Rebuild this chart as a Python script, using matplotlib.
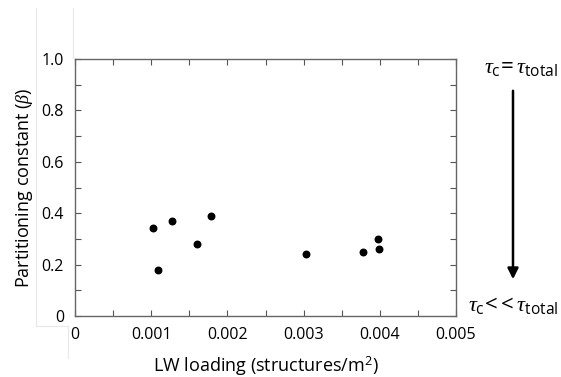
import matplotlib
matplotlib.use("Agg")
import matplotlib.pyplot as plt
from matplotlib.lines import Line2D

plt.rcParams['font.family'] = ['Open Sans', 'DejaVu Sans']
plt.rcParams['mathtext.fontset'] = 'custom'
plt.rcParams['mathtext.rm'] = 'Open Sans'
plt.rcParams['mathtext.sf'] = 'Open Sans'
plt.rcParams['mathtext.it'] = 'Liberation Serif:italic'

# LW loading (structures/m2) vs partitioning constant beta
lw_loading = [0.00103, 0.00109, 0.00127, 0.00160, 0.00179, 0.00303, 0.00378, 0.00397, 0.00399]
beta = [0.341, 0.179, 0.370, 0.280, 0.390, 0.240, 0.249, 0.300, 0.261]

xticks = [0, 0.001, 0.002, 0.003, 0.004, 0.005]
xtick_labels = ['0', '0.001', '0.002', '0.003', '0.004', '0.005']
yticks = [0, 0.2, 0.4, 0.6, 0.8, 1.0]
ytick_labels = ['0', '0.2', '0.4', '0.6', '0.8', '1.0']

fig = plt.figure(figsize=(5.61, 3.77), dpi=100)
ax = fig.add_axes([75/561, 1 - 316/377, 381/561, 257/377])

ax.scatter(lw_loading, beta, s=22, color='black', zorder=3)

ax.set_xlim(0, 0.005)
ax.set_ylim(0, 1.0)
ax.set_xticks(xticks)
ax.set_xticklabels(xtick_labels)
ax.set_yticks(yticks)
ax.set_yticklabels(ytick_labels)
ax.set_xticks([0.0005, 0.0015, 0.0025, 0.0035, 0.0045], minor=True)
ax.set_yticks([0.1, 0.3, 0.5, 0.7, 0.9], minor=True)
ax.tick_params(which='both', direction='in', top=True, right=True,
               color='#555555', width=0.8)
ax.tick_params(which='major', length=4, labelsize=11.5)
ax.tick_params(axis='y', which='major', pad=8)
ax.tick_params(axis='x', which='major', pad=8)
ax.tick_params(which='minor', length=4)
for s in ax.spines.values():
    s.set_color('#666666')
    s.set_linewidth(1.0)

ax.set_ylabel(r'Partitioning constant ($\beta$)', fontsize=13, labelpad=5)
ax.set_xlabel(r'LW loading (structures/m$^2$)', fontsize=13, labelpad=8)

# faint frame lines left over from the original composite
faint = dict(color='#e8e8e8', lw=0.8)
fig.add_artist(Line2D([36/561, 36/561], [1 - 8/377, 1 - 326/377], **faint))
fig.add_artist(Line2D([36/561, 68/561], [1 - 326/377, 1 - 326/377], **faint))
fig.add_artist(Line2D([73/561, 73/561], [1 - 8/377, 1 - 58/377], **faint))
fig.add_artist(Line2D([68/561, 68/561], [1 - 326/377, 1 - 358/377], **faint))

# right-side annotation
fig.text(558/561, 1 - 68/377,
         r'$\tau_{\mathrm{c}}\!=\tau_{\mathrm{total}}$',
         fontsize=16, ha='right', va='center')
fig.text(559/561, 1 - 305/377,
         r'$\tau_{\mathrm{c}}\!<\!<\tau_{\mathrm{total}}$',
         fontsize=16, ha='right', va='center')
ax.annotate('', xy=(513/561, 1 - 282/377), xytext=(513/561, 1 - 88/377),
            xycoords='figure fraction', textcoords='figure fraction',
            arrowprops=dict(arrowstyle='-|>', color='black', lw=1.8,
                            mutation_scale=16))

fig.savefig('out.png', dpi=100)
